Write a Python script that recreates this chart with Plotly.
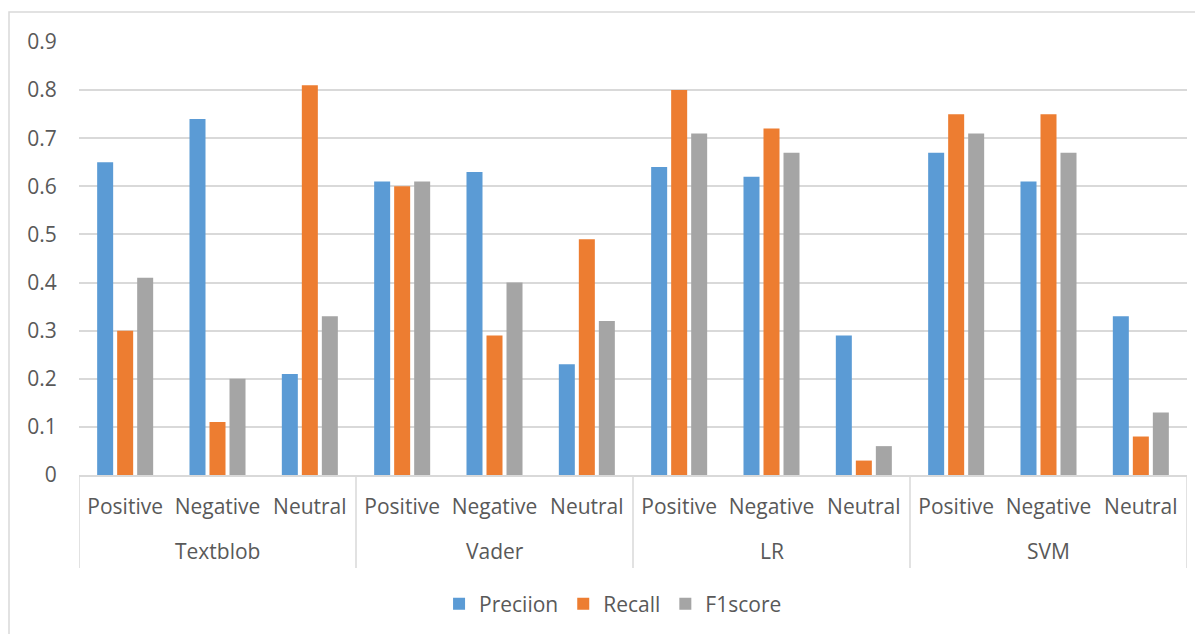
import plotly.graph_objects as go

models = ["Textblob", "Vader", "LR", "SVM"]
classes = ["Positive", "Negative", "Neutral"]
precision = [0.65, 0.74, 0.21, 0.61, 0.63, 0.23, 0.64, 0.62, 0.29, 0.67, 0.61, 0.33]
recall = [0.30, 0.11, 0.81, 0.60, 0.29, 0.49, 0.80, 0.72, 0.03, 0.75, 0.75, 0.08]
f1score = [0.41, 0.20, 0.33, 0.61, 0.40, 0.32, 0.71, 0.67, 0.06, 0.71, 0.67, 0.13]
series_names = ["Preciion", "Recall", "F1score"]
colors = ["#5B9BD5", "#ED7D31", "#A5A5A5"]
y_ticks = [0, 0.1, 0.2, 0.3, 0.4, 0.5, 0.6, 0.7, 0.8, 0.9]
y_tick_text = ["0", "0.1", "0.2", "0.3", "0.4", "0.5", "0.6", "0.7", "0.8", "0.9"]

inner = [c for m in models for c in classes]
xs = list(range(len(inner)))
FONT = "Open Sans"
FS = 21
TXT = "#595959"
GRID = "#D9D9D9"

L, T, PW, PH = 71, 34, 1108, 433
W, H = 1203, 634

fig = go.Figure()
for name, vals, col in zip(series_names, [precision, recall, f1score], colors):
    fig.add_trace(go.Bar(x=xs, y=vals, name=name, marker_color=col,
                         marker_line_width=0))

n = len(classes)
shapes = []
annotations = []
for gi, m in enumerate(models):
    center = gi * n + (n - 1) / 2
    annotations.append(dict(x=center, y=-76 / PH, xref="x", yref="paper",
                            text=m, showarrow=False, yanchor="middle",
                            font=dict(family=FONT, size=FS, color=TXT)))
for b in range(len(models) + 1):
    xb = b * n - 0.5
    shapes.append(dict(type="line", xref="x", yref="paper", x0=xb, x1=xb,
                       y0=0, y1=-93 / PH, line=dict(color=GRID, width=1.5)))
# outer chart border
shapes.append(dict(type="rect", xref="paper", yref="paper",
                   x0=(1 - L) / PW, x1=(W + 10 - L) / PW,
                   y0=-(H + 10 - (T + PH)) / PH, y1=1 + (T - 4) / PH,
                   line=dict(color=GRID, width=1.5)))

fig.update_layout(
    width=W, height=H,
    margin=dict(l=L, r=W - L - PW, t=T, b=H - T - PH),
    paper_bgcolor="white", plot_bgcolor="white",
    barmode="group", bargap=0.35, bargroupgap=0.2,
    font=dict(family=FONT, size=FS, color=TXT),
    shapes=shapes, annotations=annotations,
    legend=dict(orientation="h", x=0.482, xanchor="center", y=-129 / PH,
                yanchor="middle", font=dict(family=FONT, size=FS, color=TXT),
                itemwidth=30, tracegroupgap=0),
    xaxis=dict(tickmode="array", tickvals=xs, ticktext=inner,
               range=[-0.5, len(inner) - 0.5], showgrid=False,
               showline=True, linecolor=GRID, linewidth=1.5,
               ticks="outside", ticklen=12, tickcolor="rgba(0,0,0,0)",
               tickfont=dict(family=FONT, size=FS, color=TXT), zeroline=False),
    yaxis=dict(range=[0, 0.9], tickvals=y_ticks, ticktext=y_tick_text,
               showgrid=True, gridcolor=GRID, gridwidth=1.5, zeroline=False,
               ticks="outside", ticklen=17, tickcolor="rgba(0,0,0,0)",
               tickfont=dict(family=FONT, size=FS, color=TXT)),
)

fig.write_html("out.html")
